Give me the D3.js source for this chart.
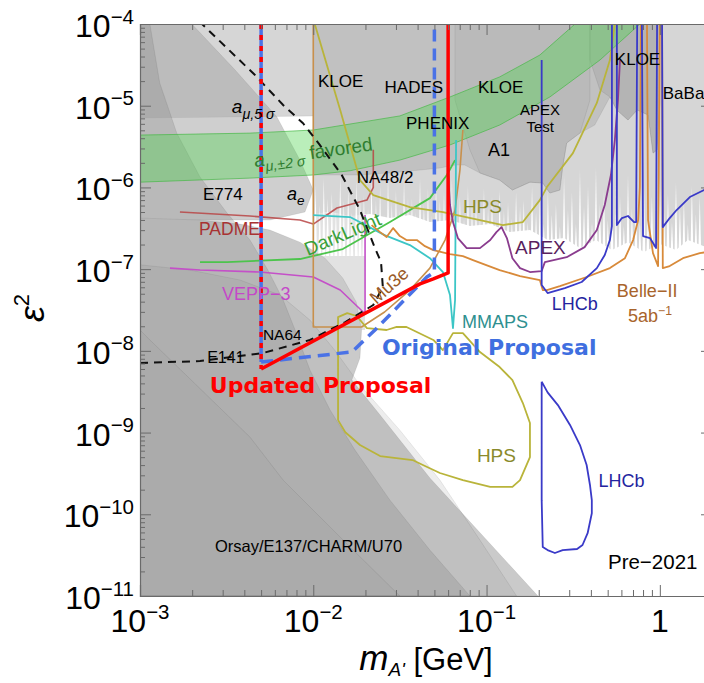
<!DOCTYPE html>
<html><head><meta charset="utf-8">
<script src="https://cdn.jsdelivr.net/npm/d3@7"></script>
<style>body{margin:0;background:#fff}svg{display:block}</style>
</head><body><svg id="c" width="704" height="683"></svg>
<script>
// ---------------- DATA (mass in GeV, epsilon^2) ----------------
const massTicks = [1e-3, 1e-2, 1e-1, 1];
const massTickLabels = [["10","−3"],["10","−2"],["10","−1"],["1",""]];
const epsTicks = [1e-4,1e-5,1e-6,1e-7,1e-8,1e-9,1e-10,1e-11];
const epsTickLabels = [["10","−4"],["10","−5"],["10","−6"],["10","−7"],["10","−8"],["10","−9"],["10","−10"],["10","−11"]];

// grey excluded regions
const aMuRegion = [[1e-3,1e-4],[0.265,1e-4],[0.203,6.37e-5],[9.16e-2,2.73e-5],[3.16e-2,1.17e-5],[1e-2,7.48e-6],[1e-3,7.07e-6]];
const aERegion = [[1e-3,1e-4],[1.99e-3,1e-4],[3.54e-3,2.73e-5],[6.17e-3,7.28e-6],[8.38e-3,2.16e-6],[1e-2,9.29e-7],[8.95e-3,5.0e-7],[5.62e-3,3.99e-7],[1e-3,3.99e-7]];
const inclusiveRegion = [[1e-2,1e-4],[2,1e-4],[2,1.91e-7],[1.80,1.91e-7],[1.452,2.27e-7],[1.239,1.71e-7],[1.0,2.03e-7],[0.809,1.62e-7],[0.655,2.14e-7],[0.529,1.71e-7],[0.428,2.27e-7],[0.346,1.81e-7],[0.280,2.40e-7],[0.226,2.27e-7],[0.178,3.01e-7],[0.136,2.84e-7],[0.105,3.56e-7],[8.02e-2,3.37e-7],[6.15e-2,3.99e-7],[4.71e-2,3.77e-7],[3.61e-2,4.59e-7],[2.77e-2,4.22e-7],[2.12e-2,4.73e-7],[1.63e-2,4.47e-7],[1.25e-2,5.0e-7],[1e-2,4.73e-7]];
const spikeFloor = 1.45e-7;
const spikeTips = [[1.03e-2,1.07e-6],[1.15e-2,1.30e-6],[1.28e-2,8.8e-7],[1.43e-2,1.38e-6],[1.59e-2,9.8e-7],[1.77e-2,1.23e-6],[1.96e-2,8.1e-7],[2.17e-2,1.30e-6],[2.43e-2,1.04e-6],[2.70e-2,1.38e-6],[3.00e-2,9.3e-7],[3.34e-2,1.23e-6],[3.71e-2,7.4e-7],[4.13e-2,1.30e-6],[4.59e-2,9.8e-7],[5.11e-2,1.16e-6],[5.68e-2,8.8e-7],[6.31e-2,1.30e-6],[7.02e-2,7.8e-7],[7.81e-2,1.04e-6],[8.69e-2,7.0e-7],[9.66e-2,9.8e-7],[0.1075,7.8e-7],[0.119,9.3e-7],[0.133,6.6e-7],[0.148,8.8e-7],[0.164,7.0e-7],[0.183,1.04e-6],[0.203,7.4e-7],[0.226,9.3e-7],[0.2515,6.3e-7],[0.280,1.38e-6],[0.311,8.8e-7],[0.346,1.63e-6],[0.385,1.04e-6],[0.428,1.73e-6],[0.476,9.3e-7],[0.529,1.16e-6],[0.589,7.8e-7],[0.655,1.42e-6],[0.728,7.0e-7],[0.809,1.07e-6],[0.900,7.8e-7],[1.00,1.30e-6],[1.114,8.3e-7],[1.239,1.16e-6],[1.377,7.0e-7],[1.531,1.04e-6],[1.70,7.8e-7],
  [1.09e-2,6.1e-7],[1.21e-2,7.4e-7],[1.35e-2,5.3e-7],[1.50e-2,7.0e-7],[1.67e-2,5.0e-7],[1.86e-2,7.8e-7],[2.07e-2,5.6e-7],[2.30e-2,7.0e-7],[2.56e-2,4.7e-7],[2.84e-2,6.6e-7],[3.16e-2,5.3e-7],[3.52e-2,7.4e-7],[3.91e-2,5.0e-7],[4.35e-2,6.3e-7],[4.84e-2,4.5e-7],[5.38e-2,7.0e-7],[5.98e-2,4.7e-7],[6.67e-2,5.9e-7],[7.41e-2,4.2e-7],[8.24e-2,6.3e-7],[9.16e-2,4.5e-7],[0.102,5.6e-7],[0.113,4.0e-7],[0.126,5.3e-7],[0.140,4.2e-7],[0.156,5.9e-7],[0.173,3.77e-7],[0.193,5.0e-7],[0.214,3.56e-7],[0.238,4.7e-7],[0.265,3.37e-7],[0.295,5.3e-7],[0.328,3.56e-7],[0.365,5.9e-7],[0.406,3.77e-7],[0.451,6.3e-7],[0.501,4.0e-7],[0.558,5.3e-7],[0.620,3.37e-7],[0.690,5.6e-7],[0.767,3.77e-7],[0.853,5.0e-7],[0.948,3.18e-7],[1.057,5.3e-7],[1.175,3.77e-7],[1.306,5.9e-7],[1.452,3.56e-7],[1.615,4.7e-7]];
const promptRegion = [[1e-2,1e-4],[1.0,1e-4],[1.0,1.08e-5],[0.964,2.87e-6],[0.913,2.63e-6],[0.855,7.71e-6],[0.74,8.85e-6],[0.655,6.68e-6],[0.565,8.85e-6],[0.515,1.28e-5],[0.421,5.8e-6],[0.346,4.62e-6],[0.29,3.5e-6],[0.275,1.78e-6],[0.265,9.29e-7],[0.232,8.53e-7],[0.211,1.13e-6],[0.178,1.16e-6],[0.141,9.29e-7],[0.119,1.23e-6],[9.16e-2,1.5e-6],[7.49e-2,1.88e-6],[6.58e-2,1.88e-6],[5.38e-2,1.73e-6],[3.16e-2,1.54e-6],[1.86e-2,1.42e-6],[1e-2,1.42e-6]];
const a1Region = [[6.58e-2,1e-4],[0.395,1e-4],[0.395,1.17e-5],[0.346,4.62e-6],[0.29,3.5e-6],[0.275,1.78e-6],[0.265,9.29e-7],[0.232,8.53e-7],[0.211,1.13e-6],[0.178,1.16e-6],[0.141,9.29e-7],[0.119,1.23e-6],[9.16e-2,1.5e-6],[8.02e-2,2.87e-6],[6.58e-2,1.17e-5]];
const kloeRegion = [[0.395,1e-4],[1.0,1e-4],[1.0,1.08e-5],[0.964,2.87e-6],[0.913,2.63e-6],[0.855,7.71e-6],[0.74,8.85e-6],[0.655,6.68e-6],[0.565,8.85e-6],[0.515,1.28e-5],[0.451,1.56e-5],[0.395,3.62e-5]];
const boxRegion = [[1e-2,5.0e-7],[1.99e-2,4.59e-7],[1.99e-2,1.8e-8],[1e-2,1.8e-8]];
const dumpOuter = [[1e-3,1e-11],[0.198,1e-11],[4.71e-2,2.78e-10],[2.43e-2,1.64e-9],[1.67e-2,4.39e-9],[1.86e-2,8.17e-9],[1.9e-2,1.8e-8],[1.77e-2,3.96e-8],[1.48e-2,7.78e-8],[1.17e-2,1.36e-7],[8.38e-3,2.14e-7],[5.62e-3,3.01e-7],[3.78e-3,3.56e-7],[2.22e-3,3.99e-7],[1e-3,4.22e-7]];
const dumpMid = [[1e-3,1e-11],[0.149,1e-11],[9.16e-2,4.83e-11],[5.38e-2,2.62e-10],[3.16e-2,1.07e-9],[1.86e-2,3.82e-9],[1.33e-2,1.02e-8],[9.57e-3,2.38e-8],[6.43e-3,4.82e-8],[3.78e-3,7.36e-8],[1.94e-3,9.75e-8],[1e-3,1.13e-7]];
const dumpDark = [[1e-3,1e-4],[1.14e-3,1e-4],[1.30e-3,1.9e-5],[1.63e-3,4.62e-6],[2.22e-3,1.34e-6],[3.18e-3,4.86e-7],[4.31e-3,2.27e-7],[5.47e-3,9.75e-8],[6.70e-3,4.19e-8],[7.85e-3,1.8e-8],[9.57e-3,5.82e-9],[1.25e-2,1.89e-9],[1.74e-2,6.11e-10],[2.77e-2,1.49e-10],[4.71e-2,3.65e-11],[8.02e-2,1e-11],[1e-3,1e-11]];
const dumpInner = [[1e-3,1.8e-8],[1.14e-3,1.36e-8],[4.31e-3,8.81e-10],[6.70e-3,2.62e-10],[1.63e-2,3.98e-11],[3.16e-2,1e-11],[1e-3,1e-11]];

// g-2 favoured band
const amuBandUpper = [[1e-3,4.37e-6],[4.31e-3,4.62e-6],[1e-2,5.04e-6],[3.16e-2,7.5e-6],[6.15e-2,1.28e-5],[0.119,2.25e-5],[0.203,4.17e-5],[0.324,1e-4]];
const amuBandLower = [[1e-3,1.16e-6],[4.31e-3,1.30e-6],[1e-2,1.42e-6],[1.63e-2,1.6e-6],[3.16e-2,2.16e-6],[6.15e-2,3.31e-6],[0.119,5.8e-6],[0.232,1.28e-5],[0.451,3.62e-5],[0.767,1e-4]];

// future projections
const padme = [[1.70e-3,5.0e-7],[4.31e-3,4.47e-7],[8.38e-3,3.99e-7],[1e-2,3.56e-7],[1.37e-2,5.6e-7],[2.04e-2,7.0e-7],[2.22e-2,1.0e-6],[2.22e-2,2.9e-6]];
const vepp3 = [[1.49e-3,1.03e-7],[2.22e-3,9.75e-8],[4.92e-3,9.22e-8],[1e-2,8.0e-8],[1.43e-2,5.55e-8],[1.94e-2,2.99e-8],[1.99e-2,2.99e-8],[1.99e-2,4.59e-7]];
const mmaps = [[1e-2,4.59e-7],[1.63e-2,4.34e-7],[2.58e-2,2.61e-7],[3.61e-2,1.97e-7],[4.71e-2,1.36e-7],[5.60e-2,9.22e-8],[6.15e-2,4.82e-8],[6.40e-2,1.9e-8],[6.58e-2,4.19e-8],[6.67e-2,3.8e-6]];
const mu3e = [[1e-2,1e-4],[1e-2,1.96e-8],[1.90e-2,1.96e-8],[2.58e-2,2.99e-8],[3.61e-2,5.55e-8],[4.71e-2,1.03e-7],[5.76e-2,2.27e-7],[6.58e-2,5.29e-7],[7.02e-2,1.63e-6],[7.30e-2,5.04e-6]];
const darkLight = [[2.22e-3,1.22e-7],[3.18e-3,1.22e-7],[8.38e-3,1.33e-7],[1.48e-2,1.76e-7],[2.77e-2,3.77e-7],[4.71e-2,7.4e-7],[5.90e-2,1.42e-6],[6.58e-2,2.16e-6]];
const hpsUpper = [[1.02e-2,1e-4],[1.43e-2,8.85e-6],[1.86e-2,1.23e-6],[2.22e-2,8.06e-7],[3.61e-2,5.75e-7],[5.6e-2,5.0e-7],[9.16e-2,3.99e-7],[0.124,3.46e-7],[0.162,3.77e-7],[0.203,7.0e-7],[0.223,1.01e-6],[0.315,2.63e-6],[0.433,1.08e-5],[0.515,3.62e-5],[0.55,1e-4]];
const hpsLower = [[1.39e-2,1.42e-9],[1.39e-2,2.59e-8],[1.57e-2,2.9e-8],[1.78e-2,2.67e-8],[2.04e-2,1.9e-8],[2.65e-2,1.8e-8],[3.03e-2,1.96e-8],[3.45e-2,1.96e-8],[3.96e-2,1.7e-8],[4.93e-2,1.36e-8],[5.6e-2,1.02e-8],[6.4e-2,1.65e-8],[7.3e-2,1.65e-8],[9.16e-2,9.67e-9],[0.119,6.33e-9],[0.141,4.39e-9],[0.162,2.3e-9],[0.178,1.31e-9],[0.178,5.02e-10],[0.156,2.62e-10],[0.141,2.16e-10],[0.105,2.16e-10],[7.3e-2,2.62e-10],[5.38e-2,3.2e-10],[4.29e-2,4.01e-10],[3.74e-2,4.61e-10],[2.43e-2,5.16e-10],[1.86e-2,7.04e-10],[1.53e-2,1.01e-9],[1.39e-2,1.42e-9]];
const lhcbLower = [[0.208,4.2e-9],[0.225,3.1e-9],[0.258,2.17e-9],[0.303,1.24e-9],[0.346,7.04e-10],[0.378,4.01e-10],[0.395,2.3e-10],[0.405,1.49e-10],[0.405,1.03e-10],[0.383,5.87e-11],[0.358,4.21e-11],[0.333,3.76e-11],[0.275,3.65e-11],[0.248,3.36e-11],[0.225,3.65e-11],[0.211,3.98e-11],[0.208,1.49e-10],[0.208,4.2e-9]];
const lhcbUpper = [[0.208,3.62e-5],[0.208,6.39e-8],[0.225,5.1e-8],[0.283,5.87e-8],[0.354,6.96e-8],[0.433,1.03e-7],[0.481,1.49e-7],[0.515,2.27e-7],[0.529,3.37e-7],[0.529,1e-4],[0.565,1e-4],[0.565,3.46e-7],[0.604,4.22e-7],[0.655,4.47e-7],[0.71,3.77e-7],[0.73,3.77e-7],[0.74,1e-4],[0.788,1e-4],[0.80,2.54e-7],[0.877,2.4e-7],[0.951,1.81e-7],[0.964,1e-4],[1.03,1e-4],[1.04,3.27e-7],[1.14,4.22e-7],[1.25,5.29e-7],[1.49,7.63e-7],[1.80,9.29e-7],[2.0,1.0e-6]];
const belle2 = [[2.17e-2,3.46e-7],[2.43e-2,2.84e-7],[2.65e-2,2.47e-7],[2.89e-2,3.18e-7],[3.16e-2,2.54e-7],[3.45e-2,2.27e-7],[3.96e-2,2.27e-7],[4.41e-2,1.91e-7],[4.93e-2,1.71e-7],[6.15e-2,1.53e-7],[7.3e-2,1.44e-7],[8.35e-2,1.29e-7],[9.53e-2,1.16e-7],[0.119,9.75e-8],[0.156,8.24e-8],[0.203,7.36e-8],[0.211,5.55e-8],[0.223,5.55e-8],[0.265,6.21e-8],[0.378,8.01e-8],[0.515,1.03e-7],[0.629,1.36e-7],[0.701,2.27e-7],[0.75,3.99e-7],[0.767,1.01e-6],[0.778,1e-4],[0.843,1e-4],[0.855,3.99e-7],[0.913,1.57e-7],[0.977,1.09e-7],[1.0,1e-4],[1.03,1e-4],[1.04,1.03e-7],[1.14,1.09e-7],[1.36,1.36e-7],[1.70,1.57e-7],[2.0,1.65e-7]];
const apex = [[5.98e-2,1.63e-6],[6.15e-2,6.09e-7],[6.4e-2,3.77e-7],[6.83e-2,2.4e-7],[7.68e-2,1.81e-7],[9.16e-2,1.81e-7],[0.105,2.27e-7],[0.114,2.84e-7],[0.122,3.27e-7],[0.131,2.4e-7],[0.141,1.36e-7],[0.156,1.03e-7],[0.178,9.22e-8],[0.208,9.48e-8],[0.217,1.22e-7],[0.29,1.4e-7],[0.368,1.86e-7],[0.433,3.01e-7],[0.481,6.09e-7],[0.522,1.42e-6],[0.55,3.8e-6],[0.573,1.17e-5],[0.589,3.62e-5]];
const reachDashed = [[1e-3,7.1e-9],[2.22e-3,7.5e-9],[5.12e-3,9.4e-9],[9.57e-3,1.36e-8],[1.53e-2,2.25e-8],[2.22e-2,3.64e-8],[2.52e-2,6.04e-8],[2.46e-2,1.22e-7],[2.27e-2,1.81e-7],[1.86e-2,5.29e-7],[1.46e-2,1.42e-6],[1.09e-2,3.31e-6],[8.73e-3,6.1e-6],[6.70e-3,1.02e-5],[4.61e-3,2.37e-5],[2.28e-3,1e-4]];

// proposals
const updatedProposal = [[5e-3,1e-4],[5e-3,6.0e-9],[4.13e-2,6.6e-8],[4.93e-2,7.6e-8],[6.0e-2,9.0e-8],[6.0e-2,1e-4]];
const originalProposal = [[5e-3,1e-4],[5e-3,7.3e-9],[1.67e-2,9.7e-9],[2.27e-2,1.8e-8],[3.96e-2,6.0e-8],[4.52e-2,8.0e-8],[5.0e-2,9.2e-8],[5.0e-2,1e-4]];

// ---------------- DRAWING ----------------
const SANS = "'Liberation Sans', Arial, Helvetica, sans-serif";
const DEJA = "'DejaVu Sans', Verdana, sans-serif";
const svg = d3.select("#c");
const L = 140, R = 712, T = 24, B = 596;
const x = d3.scaleLog().domain([1e-3, 2]).range([L, R]);
const y = d3.scaleLog().domain([1e-11, 1e-4]).range([B, T]);
const line = d3.line().x(d => x(d[0])).y(d => y(d[1]));
const poly = pts => line(pts) + "Z";

svg.append("defs").append("clipPath").attr("id","clip")
  .append("rect").attr("x",L).attr("y",T).attr("width",R-L).attr("height",B-T);
const g = svg.append("g").attr("clip-path","url(#clip)");

function area(pts, fill, op, stroke) {
  g.append("path").attr("d", poly(pts)).attr("fill", fill).attr("fill-opacity", op)
   .attr("stroke", stroke || "rgba(0,0,0,0.10)").attr("stroke-width", 0.7);
}
area(aMuRegion, "#d6d6d6", 1);
area(aERegion, "#a8a8a8", 0.55);
area(boxRegion, "#e2e2e2", 1, "none");
area(inclusiveRegion, "#d6d6d6", 1, "none");
// white downward fluctuations of the inclusive limit
g.append("g").selectAll("path").data(spikeTips).join("path")
  .attr("d", d => `M${x(d[0])-1.5},${y(spikeFloor)}L${x(d[0])},${y(d[1])}L${x(d[0])+1.5},${y(spikeFloor)}Z`)
  .attr("fill", "#fff");
area(promptRegion, "#a8a8a8", 0.45);
area(a1Region, "#888", 0.12);
area(kloeRegion, "#909090", 0.25);
area(dumpOuter, "#cacaca", 1);
area(dumpMid, "#888", 0.15);
area(dumpDark, "#888", 0.3);
area(dumpInner, "#888", 0.1);

// g-2 band
g.append("path").attr("d", poly(amuBandUpper.concat(amuBandLower.slice().reverse())))
  .attr("fill", "#52d452").attr("fill-opacity", 0.4).attr("stroke", "none");
[amuBandUpper, amuBandLower].forEach(p => g.append("path").attr("d", line(p))
  .attr("fill","none").attr("stroke","#49b849").attr("stroke-opacity",0.7).attr("stroke-width",1));

function curve(pts, color, w, dash) {
  const p = g.append("path").attr("d", line(pts)).attr("fill","none").attr("stroke",color)
    .attr("stroke-width", w).attr("stroke-linejoin","round");
  if (dash) p.attr("stroke-dasharray", dash);
  return p;
}
curve(padme, "#b84444", 1.6).attr("stroke-opacity", 0.85);
curve(vepp3, "#c450c8", 1.6);
curve(darkLight, "#4cc44c", 1.8);
curve(mu3e, "#c8904c", 1.6);
curve(mmaps, "#3cc6c6", 1.8);
curve(hpsUpper, "#b9b43a", 1.8);
curve(hpsLower, "#b9b43a", 1.8);
curve(apex, "#8a3c8e", 1.8);
curve(belle2, "#d88a3a", 1.8);
curve(lhcbUpper, "#3a3ac8", 1.8);
curve(lhcbLower, "#3a3ac8", 1.8);
curve(reachDashed, "#111", 2, "8,6");

// proposals
curve(originalProposal.slice(1), "#4a72e6", 3.5, "12,7");
curve(originalProposal.slice(0,2), "#4a72e6", 3.5);
curve(updatedProposal.slice(1), "#ff0000", 3.5);
curve(updatedProposal.slice(0,2), "#ff0000", 3.5, "5,6");

// ---------------- LABELS ----------------
const gl = svg.append("g");
function label(parts, m, e, o) {
  const px = x(m), py = y(e);
  const t = gl.append("text").attr("x", px).attr("y", py)
    .attr("font-size", o.size).attr("fill", o.color || "#000")
    .attr("text-anchor", o.anchor || "start")
    .attr("font-family", o.font || SANS).attr("font-weight", o.weight || "normal");
  if (o.rot) t.attr("transform", `rotate(${o.rot},${px},${py})`);
  let shift = 0;
  parts.forEach(p => {
    const ts = t.append("tspan").text(p.s);
    const target = p.sub ? o.size * 0.3 : p.sup ? -o.size * 0.42 : 0;
    ts.attr("dy", target - shift); shift = target;
    if (p.sub || p.sup) ts.attr("font-size", o.size * (o.small || 0.68));
    if (p.it) ts.attr("font-style", "italic");
  });
  return t;
}
const S = s => ({s});
label([S("KLOE")], 1.065e-2, 1.69e-5, {size:17});
label([S("HADES")], 2.58e-2, 1.43e-5, {size:17});
label([S("KLOE")], 8.92e-2, 1.43e-5, {size:17});
label([S("PHENIX")], 3.43e-2, 5.19e-6, {size:17});
label([S("APEX")], 0.156, 7.71e-6, {size:15});
label([S("Test")], 0.17, 4.77e-6, {size:15});
label([S("A1")], 0.102, 2.42e-6, {size:18});
label([S("KLOE")], 0.55, 3.15e-5, {size:17});
label([S("BaBar")], 1.04, 1.21e-5, {size:17});
label([S("NA48/2")], 1.78e-2, 1.13e-6, {size:17});
label([S("HPS")], 7.3e-2, 4.86e-7, {size:19, color:"#8a8a2a"});
label([S("APEX")], 0.146, 1.53e-7, {size:19, color:"#5a1f5e"});
label([S("LHCb")], 0.238, 3.16e-8, {size:18, color:"#2424a0"});
label([S("Belle−II")], 0.565, 4.55e-8, {size:18, color:"#a8642c"});
label([S("5ab"), {s:"−1", sup:true}], 0.655, 2.25e-8, {size:18, color:"#a8642c"});
label([S("MMAPS")], 7.21e-2, 1.90e-8, {size:18, color:"#2e9090"});
label([S("Original Proposal")], 2.49e-2, 8.89e-9, {size:22, color:"#3f6fe0", weight:"bold", font:DEJA});
label([S("Updated Proposal")], 2.53e-3, 3.04e-9, {size:22, color:"#ff0000", weight:"bold", font:DEJA});
label([S("HPS")], 0.114, 4.36e-10, {size:19, color:"#8a8a2a", anchor:"middle"});
label([S("LHCb")], 0.442, 2.16e-10, {size:18, color:"#2424a0"});
label([S("Pre−2021")], 0.502, 2.13e-11, {size:20.5});
label([S("Orsay/E137/CHARM/U70")], 2.71e-3, 3.44e-11, {size:16.5});
label([S("NA64")], 5.12e-3, 1.36e-8, {size:15.5});
label([S("E141")], 2.44e-3, 7.09e-9, {size:16});
label([S("PADME")], 2.19e-3, 2.61e-7, {size:17.5, color:"#a83232"});
label([S("VEPP−3")], 2.97e-3, 4.19e-8, {size:18, color:"#c448c8"});
label([S("E774")], 2.31e-3, 7.01e-7, {size:17});
label([{s:"a", it:true}, {s:"e", sub:true, it:true}], 7.06e-3, 7.0e-7, {size:18, small:0.75});
label([{s:"a", it:true}, {s:"μ,5 σ", sub:true, it:true}], 3.39e-3, 8.14e-6, {size:19, small:0.75});
label([{s:"a", it:true}, {s:"μ,±2 σ", sub:true, it:true}, {s:" favored"}], 4.61e-3, 1.78e-6, {size:19, small:0.75, color:"#2f7d2f", rot:-8});
label([S("DarkLight")], 1.53e-2, 2.27e-7, {size:19, color:"#38a038", anchor:"middle", rot:-23});
label([S("Mu3e")], 2.89e-2, 5.55e-8, {size:18, color:"#9a5a26", anchor:"middle", rot:-42});

// ---------------- AXES ----------------
const minorEps = [], minorMass = [];
for (let d = -11; d < -4; d++) for (let k = 2; k <= 9; k++) minorEps.push(k * Math.pow(10, d));
for (let d = -3; d < 1; d++) for (let k = 2; k <= 9; k++) { const v = k * Math.pow(10, d); if (v <= 2) minorMass.push(v); }
const ga = svg.append("g").attr("color", "#6a6a6a");
function ax(gen, tr, vals, size, domain) {
  const a = ga.append("g").attr("transform", tr)
    .call(gen.tickValues(vals).tickSize(size).tickFormat(""));
  a.selectAll("line").attr("stroke-width", 1);
  if (!domain) a.select(".domain").remove(); else a.select(".domain").attr("stroke-width",1.2);
}
ax(d3.axisRight(y), `translate(${L},0)`, epsTicks, 11, true);
ax(d3.axisRight(y), `translate(${L},0)`, minorEps, 5, false);
ax(d3.axisLeft(y), `translate(${R},0)`, epsTicks, 11, true);
ax(d3.axisLeft(y), `translate(${R},0)`, minorEps, 5, false);
ax(d3.axisTop(x), `translate(0,${B})`, massTicks, 11, true);
ax(d3.axisTop(x), `translate(0,${B})`, minorMass, 6, false);
ax(d3.axisBottom(x), `translate(0,${T})`, massTicks, 11, true);
ax(d3.axisBottom(x), `translate(0,${T})`, minorMass, 6, false);

epsTicks.forEach((v, i) => {
  label([S(epsTickLabels[i][0]), {s:epsTickLabels[i][1], sup:true}], 1e-3, v, {size:32, small:0.64, anchor:"end"})
    .attr("x", L - 6).attr("y", y(v) + 13);
});
massTicks.forEach((v, i) => {
  const parts = [S(massTickLabels[i][0])];
  if (massTickLabels[i][1]) parts.push({s:massTickLabels[i][1], sup:true});
  label(parts, v, 1e-11, {size:32, small:0.64, anchor:"middle"}).attr("y", B + 36);
});
// axis titles
const xt = svg.append("text").attr("x", (L + 704) / 2 + 4).attr("y", 670)
  .attr("text-anchor","middle").attr("font-family", SANS).attr("font-size", 31);
xt.append("tspan").text("m").attr("font-style","italic").attr("font-size", 35);
xt.append("tspan").text("A'").attr("font-style","italic").attr("font-size", 19).attr("dy", 6);
xt.append("tspan").text(" [GeV]").attr("dy", -6);
const yt = svg.append("text").attr("transform", "translate(44,322) rotate(-90)")
  .attr("font-family", SANS).attr("font-size", 36).attr("font-style","italic");
yt.append("tspan").text("ε");
yt.append("tspan").text("2").attr("font-size", 22).attr("dy", -15).attr("font-style","normal");
</script></body></html>
